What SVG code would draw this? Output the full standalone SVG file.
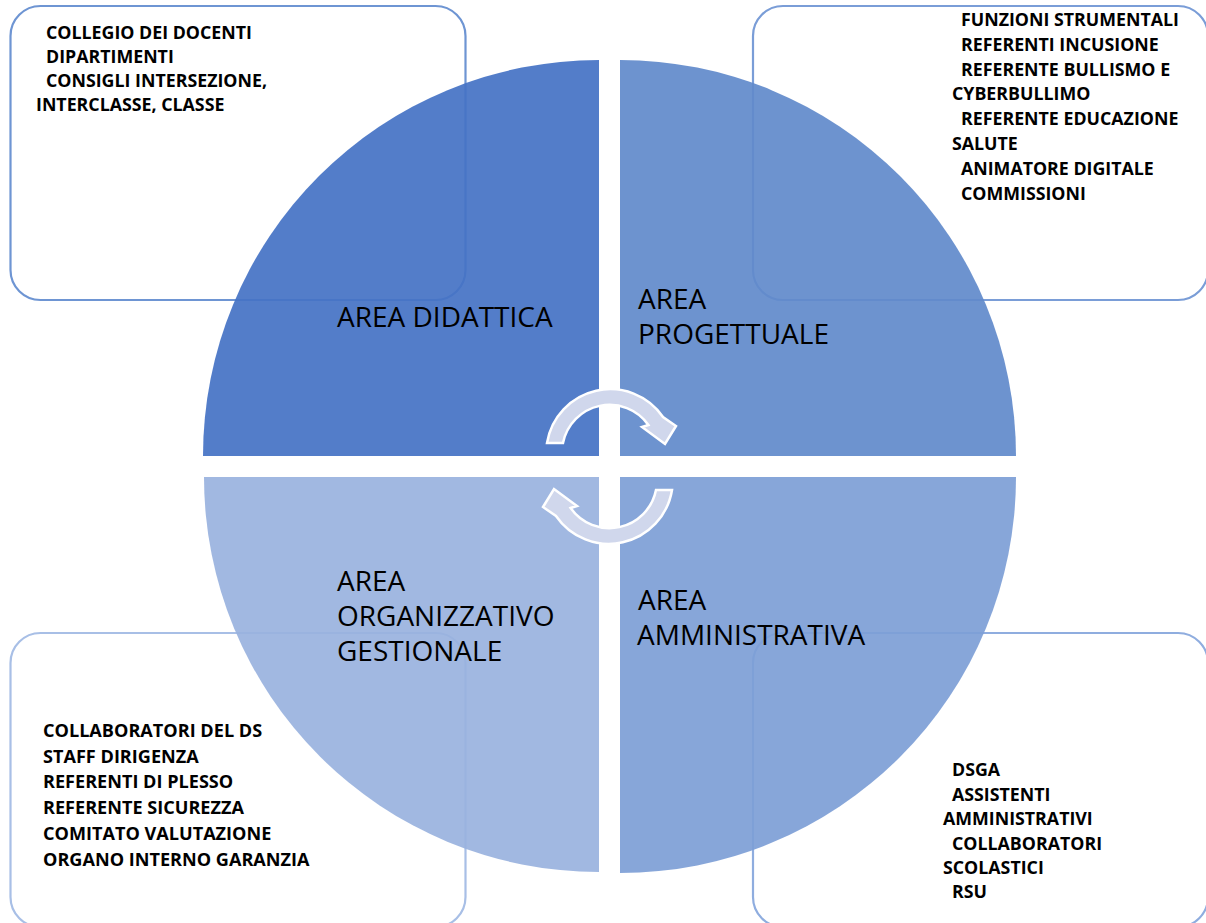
<svg xmlns="http://www.w3.org/2000/svg" width="1206" height="923" viewBox="0 0 1206 923">
  <style>
    .box { fill: #ffffff; stroke-width: 2.2; }
    .item { font-family: "Open Sans", "Noto Sans", sans-serif; font-weight: bold; font-size: 17.8px; fill: #000000; }
    .item-lg { font-size: 18.1px; }
    .area { font-family: "Open Sans", "Noto Sans", sans-serif; font-size: 28px; fill: #000000; }
    .quad { fill-opacity: 0.92; }
    .cycle { fill: #D0D7EC; stroke: #ffffff; stroke-width: 2.5; }
  </style>
  <defs>
    <!-- curved arrow turning clockwise over the centre of the matrix -->
    <path id="turn" d="M 547,443 A 64 64 0 0 1 663,417 L 676,426 L 665,444 L 642,427 L 648.4,425 A 47.5 47.5 0 0 0 563,443 Z"/>
  </defs>

  <rect width="1206" height="923" fill="#ffffff"/>

  <!-- outer description boxes -->
  <g id="box-didattica">
    <rect class="box" x="10.5" y="6" width="455" height="294" rx="30" stroke="#6E95D3"/>
    <text class="item" x="46" y="39">COLLEGIO DEI DOCENTI</text>
    <text class="item" x="46" y="63">DIPARTIMENTI</text>
    <text class="item" x="46" y="87">CONSIGLI INTERSEZIONE,</text>
    <text class="item" x="36" y="111">INTERCLASSE, CLASSE</text>
  </g>
  <g id="box-progettuale">
    <rect class="box" x="753" y="6" width="455" height="294" rx="30" stroke="#7A9DD7"/>
    <text class="item" x="961" y="26">FUNZIONI STRUMENTALI</text>
    <text class="item" x="961" y="51">REFERENTI INCUSIONE</text>
    <text class="item" x="961" y="76">REFERENTE BULLISMO E</text>
    <text class="item" x="952" y="100">CYBERBULLIMO</text>
    <text class="item" x="961" y="125">REFERENTE EDUCAZIONE</text>
    <text class="item" x="952" y="150">SALUTE</text>
    <text class="item" x="961" y="175">ANIMATORE DIGITALE</text>
    <text class="item" x="961" y="200">COMMISSIONI</text>
  </g>
  <g id="box-organizzativo">
    <rect class="box" x="10.5" y="633" width="455" height="294" rx="30" stroke="#A8BFE6"/>
    <text class="item item-lg" x="43" y="737">COLLABORATORI DEL DS</text>
    <text class="item item-lg" x="43" y="763">STAFF DIRIGENZA</text>
    <text class="item item-lg" x="43" y="788">REFERENTI DI PLESSO</text>
    <text class="item item-lg" x="43" y="814">REFERENTE SICUREZZA</text>
    <text class="item item-lg" x="43" y="840">COMITATO VALUTAZIONE</text>
    <text class="item item-lg" x="43" y="866">ORGANO INTERNO GARANZIA</text>
  </g>
  <g id="box-amministrativa">
    <rect class="box" x="753" y="633" width="455" height="294" rx="30" stroke="#8FADDF"/>
    <text class="item" x="952" y="776">DSGA</text>
    <text class="item" x="952" y="801">ASSISTENTI</text>
    <text class="item" x="943" y="825">AMMINISTRATIVI</text>
    <text class="item" x="952" y="850">COLLABORATORI</text>
    <text class="item" x="943" y="874">SCOLASTICI</text>
    <text class="item" x="952" y="898">RSU</text>
  </g>

  <!-- quarter-circle areas -->
  <g id="area-didattica">
    <path class="quad" fill="#4472C4" d="M599,456 H203 A396,396 0 0 1 599,60 Z"/>
    <text class="area" x="337" y="327">AREA DIDATTICA</text>
  </g>
  <g id="area-progettuale">
    <path class="quad" fill="#618ACB" d="M620,456 V60 A396,396 0 0 1 1016,456 Z"/>
    <text class="area"><tspan x="638" y="308.5">AREA</tspan><tspan x="638" y="343.5">PROGETTUALE</tspan></text>
  </g>
  <g id="area-organizzativo">
    <path class="quad" fill="#99B2DE" d="M599,477 V872 A395,395 0 0 1 204,477 Z"/>
    <text class="area"><tspan x="337" y="591">AREA</tspan><tspan x="337" y="626">ORGANIZZATIVO</tspan><tspan x="337" y="661">GESTIONALE</tspan></text>
  </g>
  <g id="area-amministrativa">
    <path class="quad" fill="#7D9ED6" d="M620,477 H1016 A396,396 0 0 1 620,873 Z"/>
    <text class="area"><tspan x="638" y="610">AREA</tspan><tspan x="637" y="645">AMMINISTRATIVA</tspan></text>
  </g>

  <!-- cycle arrows -->
  <g id="connectors">
    <use href="#turn" class="cycle"/>
    <use href="#turn" class="cycle" transform="rotate(180 609.5 466.5)"/>
  </g>
</svg>
